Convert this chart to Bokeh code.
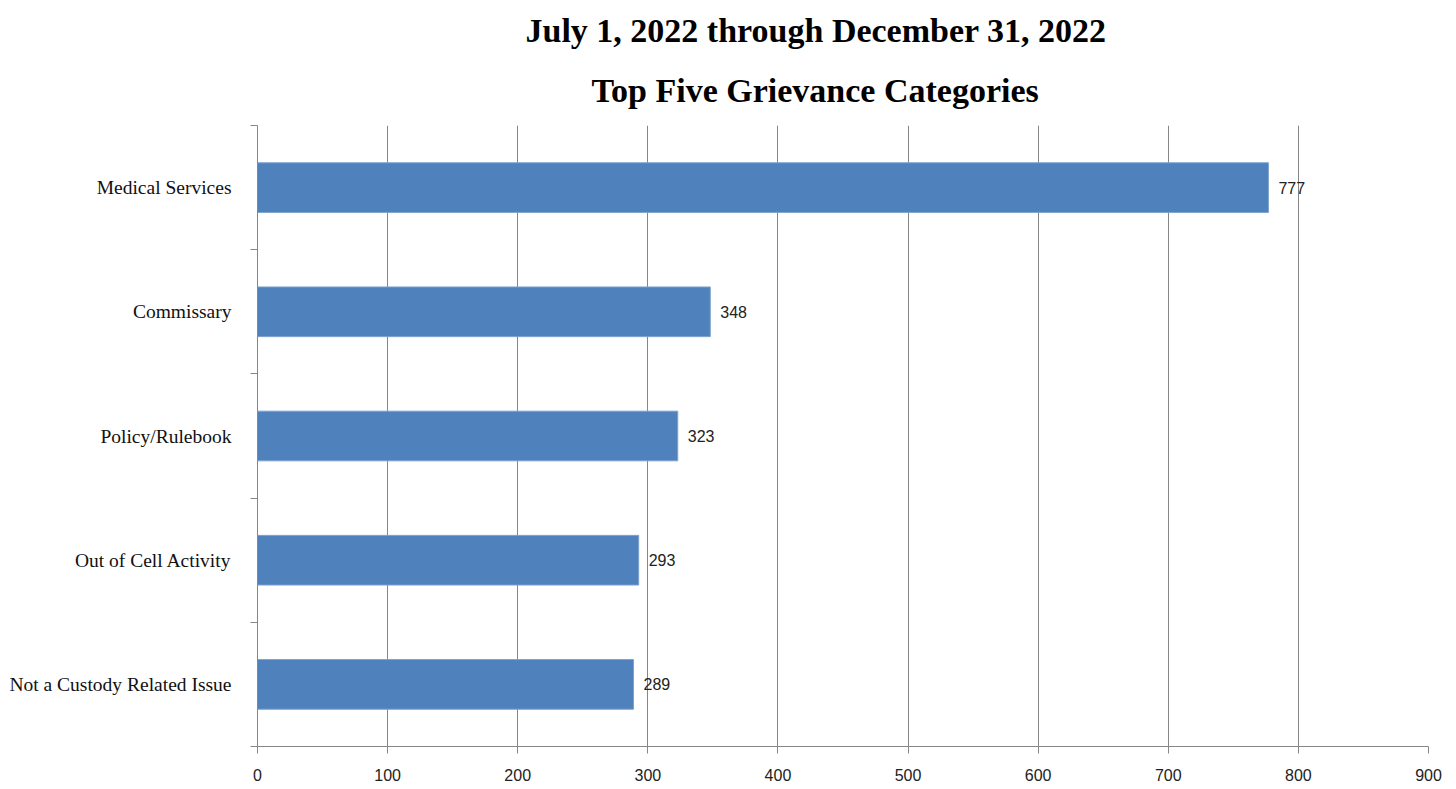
from bokeh.plotting import figure
from bokeh.models import ColumnDataSource, FixedTicker, Title, LabelSet
from bokeh.core.properties import value
from bokeh.embed import file_html
from bokeh.resources import INLINE

categories = ["Medical Services", "Commissary", "Policy/Rulebook",
              "Out of Cell Activity", "Not a Custody Related Issue"]
counts = [777, 348, 323, 293, 289]
x_ticks = [0, 100, 200, 300, 400, 500, 600, 700, 800, 900]
title_line1 = "July 1, 2022 through December 31, 2022"
title_line2 = "Top Five Grievance Categories"

n = len(categories)
ypos = [n - i - 0.5 for i in range(n)]
src = ColumnDataSource(dict(cat=categories, val=counts, y=ypos,
                            lab=[str(v) for v in counts]))

p = figure(width=1456, height=789, output_backend="svg", toolbar_location=None,
           x_range=(0, 900), y_range=(0, n),
           min_border_left=257, min_border_right=28, min_border_bottom=43,
           min_border_top=0)
p.outline_line_color = None

p.hbar(y="y", right="val", left=0, height=0.4, source=src,
       fill_color="#4F81BD", line_color="#7FA2CF", line_width=1)

labels = LabelSet(x="val", y="y", text="lab", source=src, x_offset=10,
                  text_align="left", text_baseline="middle",
                  text_font=value("Liberation Sans"),
                  text_font_size=value("16px"),
                  text_color="#222222")
p.add_layout(labels)

# titles (added bottom-up)
t2 = Title(text=title_line2, align="left", offset=334,
           text_font="Liberation Serif", text_font_size="34px",
           text_font_style="bold", text_color="#000000", standoff=33)
t1 = Title(text=title_line1, align="left", offset=268,
           text_font="Liberation Serif", text_font_size="34px",
           text_font_style="bold", text_color="#000000", standoff=9)
spacer = Title(text=" ", text_font_size="1px", standoff=2)
p.title = None
p.add_layout(t2, "above")
p.add_layout(t1, "above")
p.add_layout(spacer, "above")

# x axis
p.xaxis.ticker = FixedTicker(ticks=x_ticks, minor_ticks=[])
p.xaxis.axis_line_color = "#868686"
p.xaxis.major_tick_line_color = "#868686"
p.xaxis.major_tick_out = 7
p.xaxis.major_tick_in = 0
p.xaxis.major_label_text_font = "Liberation Sans"
p.xaxis.major_label_text_font_size = "16px"
p.xaxis.major_label_text_color = "#222222"
p.xaxis.major_label_standoff = 15

# y axis: labels at centers, ticks at category boundaries
p.yaxis.ticker = FixedTicker(ticks=ypos, minor_ticks=list(range(n + 1)))
p.yaxis.major_label_overrides = {y: c for y, c in zip(ypos, categories)}
p.yaxis.axis_line_color = "#868686"
p.yaxis.major_tick_line_color = None
p.yaxis.major_tick_out = 0
p.yaxis.major_tick_in = 0
p.yaxis.minor_tick_line_color = "#868686"
p.yaxis.minor_tick_out = 7
p.yaxis.minor_tick_in = 0
p.yaxis.major_label_text_font = "Liberation Serif"
p.yaxis.major_label_text_font_size = "19.5px"
p.yaxis.major_label_text_color = "#111111"
p.yaxis.major_label_standoff = 19

p.xgrid.grid_line_color = "#868686"
p.xgrid.ticker = FixedTicker(ticks=x_ticks)
p.ygrid.grid_line_color = None

open("out.html", "w").write(file_html(p, INLINE))
